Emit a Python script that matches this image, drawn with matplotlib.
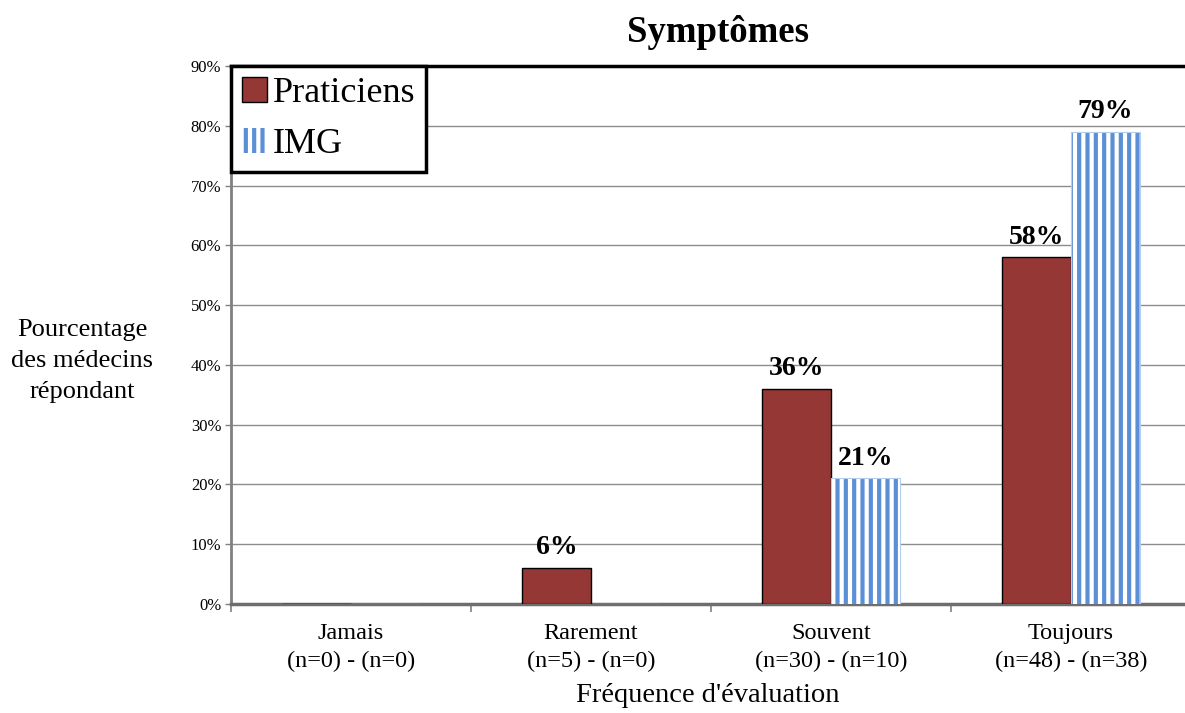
import matplotlib
matplotlib.use("Agg")
import matplotlib.pyplot as plt
import numpy as np
from matplotlib.patches import Patch

categories = ["Jamais\n(n=0) - (n=0)", "Rarement\n(n=5) - (n=0)",
              "Souvent\n(n=30) - (n=10)", "Toujours\n(n=48) - (n=38)"]
praticiens = [0, 6, 36, 58]
img = [0, 0, 21, 79]
praticiens_labels = [None, "6%", "36%", "58%"]
img_labels = [None, None, "21%", "79%"]
yticks = [0, 10, 20, 30, 40, 50, 60, 70, 80, 90]

plt.rcParams['font.family'] = ['Liberation Serif', 'DejaVu Serif']
plt.rcParams['hatch.linewidth'] = 3.0

fig = plt.figure(figsize=(11.85, 7.13), dpi=100)
ax = fig.add_axes([231/1185, 1-604/713, (1185-231)/1185, (604-66)/713])

x = np.arange(len(categories))
w = 0.2875
red = '#953735'
blue = '#5b8fd6'

ax.set_axisbelow(True)
ax.yaxis.grid(True, color='#8c8c8c', linewidth=1.0)

b1 = ax.bar(x - w/2, praticiens, w, color=red, edgecolor='black', linewidth=1.0, zorder=3)
b2 = ax.bar(x + w/2, img, w, facecolor='white', edgecolor=blue, hatch='||',
            linewidth=0.0, zorder=3)
ax.bar(x + w/2, img, w, facecolor='none', edgecolor='#b5cdee', linewidth=0.8, zorder=3.1)

for xi, v, lab in zip(x, praticiens, praticiens_labels):
    if lab:
        ax.text(xi - w/2, v + 1.3, lab, ha='center', va='bottom', fontsize=20, fontweight='bold')
for xi, v, lab in zip(x, img, img_labels):
    if lab:
        ax.text(xi + w/2, v + 1.3, lab, ha='center', va='bottom', fontsize=20, fontweight='bold')

ax.set_xlim(-0.5, 3.475)
ax.set_ylim(0, 90)
ax.set_yticks(yticks)
ax.set_yticklabels([f"{t}%" for t in yticks], fontsize=12)
ax.set_xticks(x)
ax.set_xticklabels(categories, fontsize=17.5, linespacing=1.4)
ax.tick_params(axis='x', length=0, pad=14)
ax.set_xticks([-0.5, 0.5, 1.5, 2.5], minor=True)
ax.tick_params(axis='x', which='minor', length=6, color='#808080', width=1.2)
ax.tick_params(axis='y', length=4, color='#808080', width=1.0, pad=3)

ax.spines['top'].set_color('black')
ax.spines['top'].set_linewidth(2.5)
ax.spines['right'].set_visible(False)
ax.spines['left'].set_color('#808080')
ax.spines['left'].set_linewidth(2)
ax.spines['bottom'].set_color('#6e6e6e')
ax.spines['bottom'].set_linewidth(2.5)

ax.set_xlabel("Fréquence d'évaluation", fontsize=20.5, labelpad=8)
fig.text(82/1185, 1-361/713, "Pourcentage\ndes médecins\nrépondant", ha='center', va='center',
         fontsize=19, linespacing=1.55)
fig.text(718/1185, 1-32/713, "Symptômes", ha='center', va='center',
         fontsize=26.5, fontweight='bold')

handles = [Patch(facecolor=red, edgecolor='black', linewidth=1.0, label='Praticiens'),
           Patch(facecolor='white', edgecolor=blue, linewidth=0, hatch='||', label='IMG')]
leg = ax.legend(handles=handles, loc='upper left', bbox_to_anchor=(0, 1), fontsize=26,
                frameon=True, fancybox=False, framealpha=1, handlelength=0.7, handleheight=0.7,
                handletextpad=0.15, borderpad=0.3, labelspacing=0.5, borderaxespad=0)
leg.get_frame().set_edgecolor('black')
leg.get_frame().set_linewidth(2.5)
leg.set_zorder(5)

fig.savefig("out.png", dpi=100)
